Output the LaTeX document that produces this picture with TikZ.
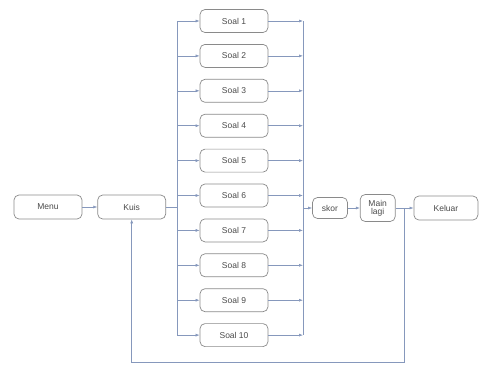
\documentclass[tikz,border=0pt]{standalone}
\usepackage{fontspec}
\setmainfont{Liberation Sans}
\usepackage{tikz}
\usetikzlibrary{calc,positioning,arrows.meta}
\definecolor{boxgray}{HTML}{8A8A8A}
\definecolor{linkblue}{HTML}{8698BC}
\definecolor{txtgray}{HTML}{4A4A4A}
\tikzset{
  line/.style={-{Latex[length=4pt,width=3pt]}, line width=0.6pt, draw=linkblue},
  bus/.style={line width=0.6pt, draw=linkblue},
  box/.style={draw=boxgray, line width=0.7pt, rounded corners=5pt, align=center, inner sep=1pt,
    text=txtgray, font=\fontsize{8.5}{9}\selectfont},
  soalbox/.style={box, minimum width=68pt, minimum height=23pt},
  mainbox/.style={box, minimum width=68pt, minimum height=24pt},
  smallbox/.style={box, minimum width=35pt, minimum height=21pt}
}
\begin{document}
\begin{tikzpicture}[x=1pt, y=-1pt, node distance=11.2pt]
  \useasboundingbox (0,0) rectangle (479,370);
  % soal column
  \node[soalbox] (soal1) at (234,21) {Soal 1};
  \node[soalbox, below=of soal1] (soal2) {Soal 2};
  \node[soalbox, below=of soal2] (soal3) {Soal 3};
  \node[soalbox, below=of soal3] (soal4) {Soal 4};
  \node[soalbox, below=of soal4] (soal5) {Soal 5};
  \node[soalbox, below=of soal5] (soal6) {Soal 6};
  \node[soalbox, below=of soal6] (soal7) {Soal 7};
  \node[soalbox, below=of soal7] (soal8) {Soal 8};
  \node[soalbox, below=of soal8] (soal9) {Soal 9};
  \node[soalbox, below=of soal9] (soal10) {Soal 10};
  % main row
  \node[mainbox] (menu) at (48,207) {Menu};
  \node[mainbox, right=15pt of menu] (kuis) {Kuis};
  \node[smallbox] (skor) at (330,208) {skor};
  \node[smallbox, minimum height=27pt, right=12pt of skor] (mainlagi) {Main\\[-1pt]lagi};
  \node[mainbox, minimum width=64pt, right=18pt of mainlagi] (keluar) {Keluar};

  \coordinate (lbus) at (177,0);
  \coordinate (rbus) at (303,0);
  \coordinate (split) at ($(mainlagi.east)!0.5!(keluar.west)$);
  \coordinate (bottom) at (0,362);

  \draw[line] (menu) -- (kuis);
  \draw[bus] (kuis) -- (lbus |- kuis);
  \draw[bus] (lbus |- soal1) -- (lbus |- soal10);
  \draw[bus] (rbus |- soal1) -- (rbus |- soal10);
  \foreach \n in {1,...,10} {
    \draw[line] (lbus |- soal\n) -- (soal\n);
    \draw[line] (soal\n) -- (rbus |- soal\n);
  }
  \draw[line] (rbus |- skor) -- (skor);
  \draw[line] (skor) -- (mainlagi);
  \draw[line] (mainlagi) -- (keluar);
  \draw[line] (split) -- (split |- bottom) -| (kuis.south);
\end{tikzpicture}
\end{document}
